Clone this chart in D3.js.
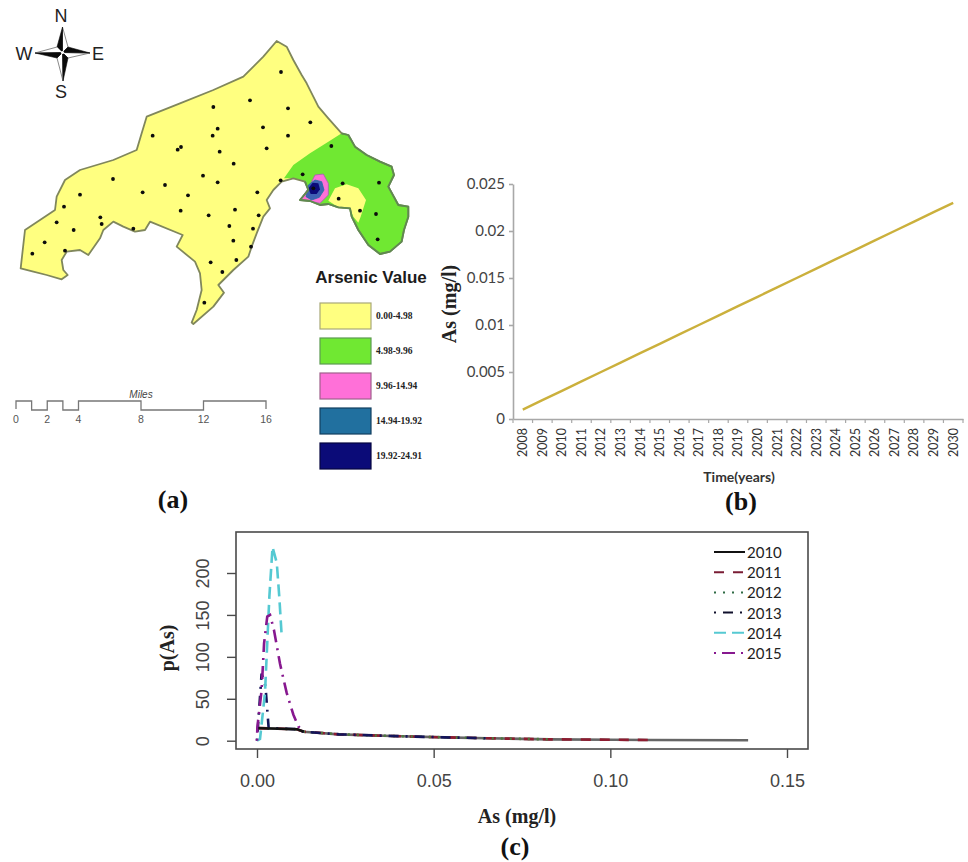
<!DOCTYPE html>
<html lang="en">

<head>
    <meta charset="utf-8">
    <title>arsenic map and charts</title>
    <script src="https://cdn.jsdelivr.net/npm/d3@7"></script>
    <style>
        html, body { margin: 0; background: #fff; }
        svg { display: block; }
        .sans { font-family: "Liberation Sans", Arial, sans-serif; }
        .serif { font-family: "Liberation Serif", "Times New Roman", serif; font-weight: bold; }
        .calibri { font-family: Lato, sans-serif; }
    </style>
</head>

<body>
    <script>
        var mapOutline = [[830,123],[860,140],[880,180],[905,225],[920,250],[940,290],[955,320],[985,355],[1025,400],[1045,405],[1065,440],[1100,465],[1140,485],[1175,500],[1182,525],[1165,560],[1195,615],[1225,620],[1225,650],[1212,690],[1205,725],[1170,755],[1140,762],[1105,735],[1075,690],[1055,650],[1050,625],[1015,622],[985,612],[960,615],[930,603],[900,600],[925,570],[915,545],[880,535],[845,545],[820,570],[800,600],[810,625],[790,650],[770,700],[755,740],[745,770],[700,810],[655,855],[672,878],[640,920],[580,972],[575,968],[590,930],[605,870],[600,820],[585,785],[530,740],[548,705],[450,665],[435,690],[405,695],[370,680],[340,665],[310,690],[300,715],[265,765],[240,750],[200,755],[185,780],[190,810],[203,825],[185,838],[140,825],[100,815],[62,805],[75,690],[120,660],[165,630],[170,590],[195,540],[240,510],[340,480],[410,450],[425,400],[440,350],[540,310],[640,270],[730,230],[790,170]];
        var greenZone = [[1025,400],[1045,405],[1065,440],[1100,465],[1140,485],[1175,500],[1182,525],[1165,560],[1195,615],[1225,620],[1225,650],[1212,690],[1205,725],[1170,755],[1140,762],[1105,735],[1075,690],[1055,650],[1050,625],[1015,622],[985,612],[960,615],[930,603],[900,600],[925,570],[915,545],[880,535],[852,535],[880,495],[930,460],[985,425]];
        var yellowPocket = [[985,602],[1005,565],[1040,553],[1075,565],[1098,600],[1082,650],[1075,668],[1060,650],[1050,625],[1015,622]];
        var pinkZone = [[900,600],[925,565],[945,525],[970,522],[985,550],[985,585],[960,610],[930,603]];
        var blueZone = [[918,590],[925,555],[945,540],[965,545],[972,570],[958,592],[935,600]];
        var navyZone = [[925,565],[938,548],[955,550],[960,568],[950,582],[932,582]];
        var wells = [[843,216],[750,301],[640,321],[864,325],[653,386],[789,382],[931,367],[638,407],[864,407],[458,407],[543,441],[533,449],[800,445],[659,455],[994,438],[701,491],[908,523],[609,527],[339,537],[653,547],[842,541],[495,555],[1028,550],[1137,548],[428,577],[772,577],[240,584],[564,586],[1016,596],[192,620],[542,632],[626,646],[705,629],[776,646],[1080,632],[1128,642],[301,652],[305,672],[170,667],[221,690],[400,686],[688,678],[759,686],[134,727],[700,722],[1133,718],[753,740],[195,752],[97,761],[709,780],[632,787],[667,816],[613,908],[940,565]];
        var legendTitle = 'Arsenic Value';
        var legendLabels = ['0.00-4.98', '4.98-9.96', '9.96-14.94', '14.94-19.92', '19.92-24.91'];
        var legendColors = ['#ffff80', '#70e832', '#ff70d8', '#21709f', '#0b0b78'];
        var miles = [0, 2, 4, 8, 12, 16];
        var milesSteps = [0, 1, 2, 3, 4, 8, 12, 16];

        // --- panel b
        var years = d3.range(2008, 2031).map(String);
        var asTrend = [0.001, 0.002, 0.003, 0.004, 0.005, 0.006, 0.007, 0.008, 0.009, 0.010, 0.011, 0.012, 0.013, 0.014, 0.015, 0.016, 0.017, 0.018, 0.019, 0.020, 0.021, 0.022, 0.023];
        var trendTicks = [0, 0.005, 0.01, 0.015, 0.02, 0.025];

        // --- panel c
        var tailX = [0.0113, 0.0132, 0.0232, 0.0382, 0.0532, 0.0651, 0.0829, 0.1007, 0.1114, 0.139];
        var tailY = [13.7, 10.7, 7.6, 5.6, 4, 2.9, 1.6, 1.2, 0.8, 0.6];
        var series = [
            { name: '2010', x: [0.0004].concat(tailX), y: [15].concat(tailY) },
            { name: '2011', x: [0.0004].concat(tailX.slice(0, 9)), y: [15].concat(tailY.slice(0, 9)) },
            { name: '2012', x: [0.0004].concat(tailX.slice(0, 7)), y: [15].concat(tailY.slice(0, 7)) },
            { name: '2013', x: [0, 0.0013, 0.0024, 0.0033, 0.0113, 0.0132, 0.0232, 0.0382, 0.0532, 0.0651], y: [0, 80, 65, 15, 13.7, 10.7, 7.6, 5.6, 4, 2.9] },
            { name: '2014', x: [0, 0.00085, 0.00226, 0.0035, 0.0044, 0.0056, 0.0063, 0.007], y: [0, 2, 57, 172, 231, 212, 172, 124] },
            { name: '2015', x: [0, 0.0001, 0.0013, 0.002, 0.0029, 0.0037, 0.0048, 0.0065, 0.0084, 0.0103, 0.0117, 0.0131], y: [0, 16, 60, 116, 148, 150, 132, 92, 57, 31, 17, 11] }
        ];
        var seriesColors = ['#111', '#7a1c34', '#2f6b45', '#10102c', '#55c9d2', '#87188f'];
        var curveColors = ['#666', '#8e1c30', '#4c7a3c', '#14145a', '#55c9d2', '#87188f'];
        var seriesDash = [null, '10 9', '2 7', '2 7 10 7', '12 6', '2 6 13 6'];

        var svg = d3.select('body').append('svg')
            .attr('width', 968)
            .attr('height', 862);

        function addText(txt, x, y, cls, size) {
            return svg.append('text')
                .attr('x', x).attr('y', y)
                .attr('class', cls)
                .attr('text-anchor', 'middle')
                .attr('dominant-baseline', 'central')
                .style('font-size', size + 'px')
                .text(txt);
        }

        function addRotated(txt, x, y, cls, size) {
            return addText(txt, 0, 0, cls, size)
                .attr('transform', `translate(${x},${y}) rotate(-90)`);
        }

        function drawMap() {
            var mx = d3.scaleLinear().domain([0, 1290]).range([0, 430]);
            var my = d3.scaleLinear().domain([0, 1020]).range([0, 340]);
            var outline = d3.line().x(d => mx(d[0])).y(d => my(d[1])).curve(d3.curveLinearClosed);
            var open = d3.line().x(d => mx(d[0])).y(d => my(d[1]));
            var g = svg.append('g');

            function zone(points, fill) {
                return g.append('path').attr('d', outline(points)).attr('fill', fill);
            }
            zone(mapOutline, legendColors[0]);
            zone(greenZone, legendColors[1]);
            zone(yellowPocket, legendColors[0]);
            zone(pinkZone, legendColors[2]).attr('stroke', '#a060b0').attr('stroke-width', 0.8);
            zone(blueZone, '#3f62b4').attr('stroke', legendColors[3]).attr('stroke-width', 0.8);
            zone(navyZone, legendColors[4]);
            zone(mapOutline, 'none')
                .attr('stroke', '#80875c')
                .attr('stroke-width', 1.8)
                .attr('stroke-linejoin', 'round');
            // the border reads greener around the green zone
            g.append('path')
                .attr('d', open(greenZone.slice(0, 26)))
                .attr('fill', 'none')
                .attr('stroke', '#5f8a50')
                .attr('stroke-width', 1.8)
                .attr('stroke-linejoin', 'round');

            g.selectAll('circle').data(wells).enter().append('circle')
                .attr('cx', d => mx(d[0]))
                .attr('cy', d => my(d[1]))
                .attr('r', 1.9)
                .attr('fill', '#0c0c0c');
        }

        function drawCompass() {
            var c = [62.5, 52.5], r = [[62.5, 27], [90, 53], [63, 81], [35, 53]];
            var waist = [[68, 47], [68, 58], [57, 58], [57, 47]];
            var g = svg.append('g');
            r.forEach((tip, i) => {
                var dark = waist[(i + 3) % 4], light = waist[i];
                g.append('polygon').attr('points', [tip, light, c].join(' '))
                    .attr('fill', '#fff').attr('stroke', '#8a8a8a');
                g.append('polygon').attr('points', [tip, dark, c].join(' '))
                    .attr('fill', '#0a0a0a').attr('stroke', '#0a0a0a').attr('stroke-width', 0.6);
            });
            g.append('circle').attr('cx', c[0]).attr('cy', c[1]).attr('r', 1.6).attr('fill', '#fff');
            addText('N', 61, 16, 'sans', 18).attr('fill', '#222');
            addText('W', 24, 54, 'sans', 18).attr('fill', '#222');
            addText('E', 98, 54, 'sans', 18).attr('fill', '#222');
            addText('S', 61, 92, 'sans', 18).attr('fill', '#222');
        }

        function drawScaleBar() {
            var sx = d3.scaleLinear().domain([0, 16]).range([16, 266]);
            var pts = [[0, 409]];
            milesSteps.slice(0, -1).forEach((d, i) => {
                var level = i % 2 === 0 ? 401 : 410;
                pts.push([d, level], [milesSteps[i + 1], level]);
            });
            pts.push([16, 409]);
            svg.append('path')
                .attr('d', d3.line().x(d => sx(d[0])).y(d => d[1])(pts))
                .attr('fill', 'none')
                .attr('stroke', '#777')
                .attr('stroke-width', 1.3);
            miles.forEach(d => {
                addText(d, sx(d), 419, 'sans', 10.5).attr('fill', '#555');
            });
            addText('Miles', sx(8), 394, 'sans', 10).attr('fill', '#444').style('font-style', 'italic');
        }

        function drawLegend() {
            var ly = d3.scaleBand().domain(legendLabels).range([303, 478]);
            addText(legendTitle, 371, 277, 'sans', 17)
                .style('font-weight', 'bold').attr('fill', '#1c1c1c');
            legendLabels.forEach((d, i) => {
                svg.append('rect')
                    .attr('x', 320).attr('y', ly(d))
                    .attr('width', 51).attr('height', 26)
                    .attr('fill', legendColors[i])
                    .attr('stroke', ['#a8a878', '#5c9a50', '#a0608c', '#123f60', '#050540'][i])
                    .attr('stroke-width', 1.2);
                addText(d, 376, ly(d) + 13, 'serif', 9.5).attr('text-anchor', 'start').attr('fill', '#222');
            });
        }

        function drawTrend() {
            var x = d3.scaleBand().domain(years).range([513, 963]);
            var y = d3.scaleLinear().domain([0, 0.025]).range([419, 184]);

            svg.append('g')
                .attr('transform', 'translate(513,0)')
                .call(d3.axisLeft(y).tickValues(trendTicks).tickFormat(d => String(d)).tickSize(4).tickSizeOuter(0))
                .call(g => g.selectAll('text').attr('class', 'calibri').attr('x', -8).style('font-size', '15px').attr('fill', '#444'))
                .call(g => g.selectAll('line, path').attr('stroke', '#a8a8a8').attr('stroke-width', 1.6));

            var xAxis = svg.append('g')
                .attr('transform', 'translate(0,419)')
                .call(d3.axisBottom(x).tickSize(0).tickSizeOuter(0));
            xAxis.select('path').attr('stroke', '#a8a8a8').attr('stroke-width', 1.6);
            xAxis.selectAll('text')
                .attr('class', 'calibri')
                .attr('transform', 'rotate(-90)')
                .attr('text-anchor', 'end')
                .attr('x', -9).attr('y', 0).attr('dy', '0.35em')
                .style('font-size', '12.5px')
                .attr('fill', '#333');
            xAxis.selectAll('line.edge').data(years.concat('end')).enter().append('line')
                .attr('class', 'edge')
                .attr('x1', d => d === 'end' ? 963 : x(d))
                .attr('x2', d => d === 'end' ? 963 : x(d))
                .attr('y2', 4)
                .attr('stroke', '#a8a8a8')
                .attr('stroke-width', 1.2);

            svg.append('path')
                .attr('d', d3.line().x((d, i) => x(years[i]) + x.bandwidth() / 2).y(d => y(d))(asTrend))
                .attr('fill', 'none')
                .attr('stroke', '#cbb03c')
                .attr('stroke-width', 2.4);

            addRotated('As (mg/l)', 449, 304, 'serif', 20).attr('fill', '#222');
            addText('Time(years)', 739, 476, 'calibri', 14).style('font-weight', 'bold').attr('fill', '#333');
        }

        function drawDensity() {
            var x = d3.scaleLinear().domain([0, 0.15]).range([257, 787]);
            var y = d3.scaleLinear().domain([0, 200]).range([740.7, 573]);

            svg.append('rect')
                .attr('x', 236).attr('y', 532)
                .attr('width', 572).attr('height', 217)
                .attr('fill', 'none')
                .attr('stroke', '#4a4a4a')
                .attr('stroke-width', 1.6);

            svg.append('g')
                .attr('transform', 'translate(236,0)')
                .call(d3.axisLeft(y).tickValues([0, 50, 100, 150, 200]).tickSize(9).tickSizeOuter(0))
                .call(g => g.select('path').remove())
                .call(g => g.selectAll('line').attr('stroke', '#4a4a4a').attr('stroke-width', 1.4))
                .call(g => g.selectAll('text')
                    .attr('class', 'sans')
                    .attr('x', 0).attr('y', 0).attr('dy', 0)
                    .attr('text-anchor', 'middle')
                    .attr('transform', 'translate(-33,0) rotate(-90)')
                    .attr('dominant-baseline', 'central')
                    .style('font-size', '18px')
                    .attr('fill', '#444'));

            svg.append('g')
                .attr('transform', 'translate(0,749)')
                .call(d3.axisBottom(x).tickValues([0, 0.05, 0.1, 0.15]).tickFormat(d3.format('.2f')).tickSize(9).tickSizeOuter(0))
                .call(g => g.select('path').remove())
                .call(g => g.selectAll('line').attr('stroke', '#4a4a4a').attr('stroke-width', 1.4))
                .call(g => g.selectAll('text')
                    .attr('class', 'sans')
                    .attr('y', 25)
                    .style('font-size', '18px')
                    .attr('fill', '#444'));

            var line = d3.line().x(d => x(d[0])).y(d => y(d[1]));
            series.forEach((s, i) => {
                svg.append('path')
                    .attr('d', line(d3.zip(s.x, s.y)))
                    .attr('fill', 'none')
                    .attr('stroke', curveColors[i])
                    .attr('stroke-width', 2.6)
                    .attr('stroke-dasharray', seriesDash[i]);
            });
            // the flat start of the 2010 curve reads black
            svg.append('path')
                .attr('d', line(d3.zip(series[0].x.slice(0, 3), series[0].y.slice(0, 3))))
                .attr('fill', 'none')
                .attr('stroke', seriesColors[0])
                .attr('stroke-width', 2.4);

            // legend
            var ly = d3.scalePoint().domain(series.map(s => s.name)).range([552, 653]);
            series.forEach((s, i) => {
                svg.append('line')
                    .attr('x1', 714).attr('x2', 745)
                    .attr('y1', ly(s.name)).attr('y2', ly(s.name))
                    .attr('stroke', seriesColors[i])
                    .attr('stroke-width', 2)
                    .attr('stroke-dasharray', seriesDash[i]);
                addText(s.name, 747, ly(s.name), 'calibri', 15)
                    .attr('text-anchor', 'start').attr('fill', '#222');
            });

            addRotated('p(As)', 167, 648, 'serif', 20).attr('fill', '#222');
            addText('As (mg/l)', 517, 816, 'serif', 20).attr('fill', '#222');
        }

        drawMap();
        drawCompass();
        drawScaleBar();
        drawLegend();
        drawTrend();
        drawDensity();
        addText('(a)', 173, 499, 'serif', 26).attr('fill', '#111');
        addText('(b)', 741, 501, 'serif', 26).attr('fill', '#111');
        addText('(c)', 515, 846, 'serif', 26).attr('fill', '#111');
    </script>
</body>

</html>
